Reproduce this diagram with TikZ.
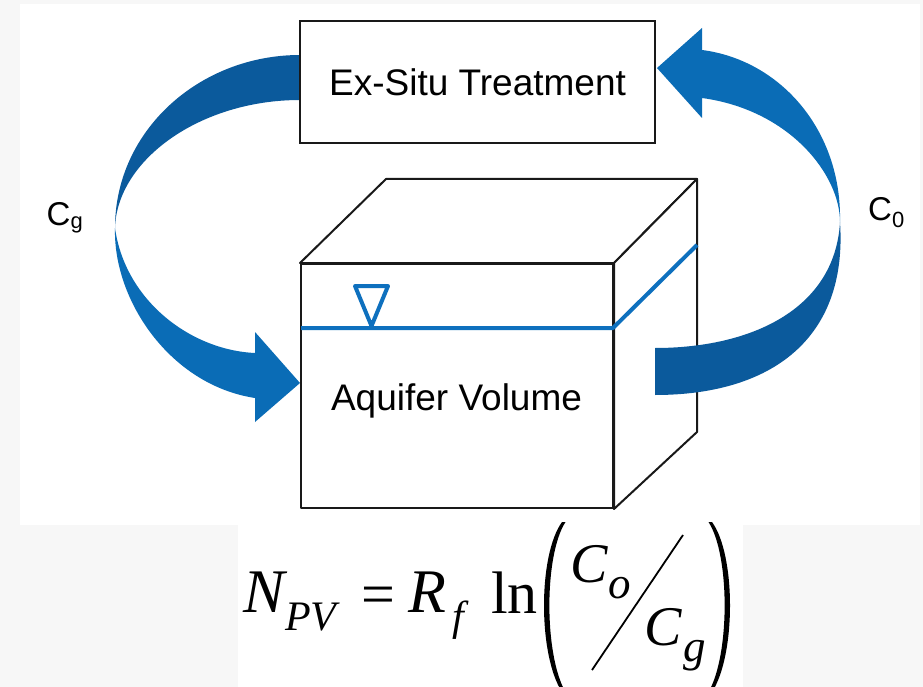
\documentclass[tikz,border=0pt]{standalone}
\usepackage{fontspec}
\setmainfont{Liberation Sans}
\newfontfamily\eqfont{Liberation Serif}
\newcommand\setfs[1]{\fontsize{#1}{#1}\selectfont}
\definecolor{darkblue}{RGB}{11,90,156}
\definecolor{midblue}{RGB}{10,108,182}
\definecolor{lineblue}{RGB}{14,112,190}
\definecolor{edgecol}{RGB}{25,25,25}
\definecolor{margincol}{RGB}{247,247,247}
\tikzset{
  cubeedge/.style={draw=edgecol, line width=2pt, line join=round, fill=white},
  labeltext/.style={inner sep=0pt, font=\setfs{37}},
  clabel/.style={inner sep=0pt, anchor=base west, font=\setfs{33}},
  eqit/.style={inner sep=0pt, anchor=base west, font={\eqfont\itshape}},
  equp/.style={inner sep=0pt, anchor=base west, font={\eqfont}},
  water/.style={draw=lineblue, line width=4pt, line join=round},
}
\begin{document}
\begin{tikzpicture}[x=1pt,y=-1pt]
\useasboundingbox (0,0) rectangle (923,687);
% background panels
\fill[margincol] (0,0) rectangle (923,687);
\fill[white] (20,4) rectangle (920,525);
\fill[white] (238,525) rectangle (743,687);

% left arrow (C_g)
\fill[darkblue] (300,55) .. controls (200,55) and (115,130) .. (115,228)
   .. controls (117,160) and (200,100) .. (300,100) -- cycle;
\fill[midblue] (115,228) .. controls (113,300) and (170,385) .. (255,398)
   -- (255,422) -- (300,383) -- (255,332) -- (255,353)
   .. controls (190,350) and (125,300) .. (115,228) -- cycle;

% right arrow (C_0), upper part with head
\fill[midblue] (702,50) .. controls (780,60) and (842,130) .. (840,222)
   .. controls (840,175) and (790,110) .. (702,98)
   -- (702,118) -- (657,68) -- (702,28) -- cycle;

% Ex-Situ Treatment box
\node[draw=edgecol, line width=2pt, fill=white, minimum width=355pt,
      minimum height=122pt, inner sep=0pt, labeltext] (exsitu) at (477.5,82) {Ex-Situ Treatment};

% cube
\node[cubeedge, minimum width=312pt, minimum height=244pt, inner sep=0pt] (front) at (457,386) {};
\draw[cubeedge] (front.north west) -- (386,179) -- (697,179) -- (front.north east) -- cycle;
\draw[cubeedge] (front.north east) -- (697,179) -- (697,432) -- (front.south east) -- cycle;
\draw[water] (301,328) -- (613,328) -- (697,245);
\draw[water] (355,286) -- (388,286) -- (371.5,326) -- cycle;
\node[labeltext, anchor=base] (aquifer) at (456.5,410) {Aquifer Volume};

% right arrow lower part (in front of cube)
\fill[darkblue] (840,222) .. controls (848,340) and (770,395) .. (655,395)
   -- (655,348) .. controls (750,348) and (835,310) .. (840,222) -- cycle;

% concentration labels
\node[clabel] (cg) at (46.5,225) {C\raisebox{-4pt}{\setfs{22}g}};
\node[clabel] (c0) at (868,220) {C\raisebox{-7pt}{\setfs{22}0}};

% equation
\node[eqit, font={\eqfont\itshape\setfs{62}}] (eqN) at (243,612) {N};
\node[eqit, font={\eqfont\itshape\setfs{42}}] (eqPV) at (285,630) {PV};
\node[equp, font={\eqfont\setfs{60}}] (eqeq) at (361,614) {=};
\node[eqit, font={\eqfont\itshape\setfs{62}}] (eqR) at (408,612) {R};
\node[eqit, font={\eqfont\itshape\setfs{42}}] (eqf) at (452,630) {f};
\node[equp, font={\eqfont\setfs{60}}] (eqln) at (491,613) {ln};
\fill[black] (562,522) .. controls (538,555) and (538,655) .. (562,692)
   -- (565.5,692) .. controls (544,655) and (544,555) .. (565.5,522) -- cycle;
\fill[black] (712,522) .. controls (736,555) and (736,655) .. (712,692)
   -- (708.5,692) .. controls (730,655) and (730,555) .. (708.5,522) -- cycle;
\node[eqit, font={\eqfont\itshape\setfs{56}}] (eqCo) at (570,582) {C};
\node[eqit, font={\eqfont\itshape\setfs{45}}] (eqo) at (608,598) {o};
\coordinate (slA) at (592,670);
\coordinate (slB) at (683,535);
\draw[black, line width=1.8pt] (slA) -- (slB);
\node[eqit, font={\eqfont\itshape\setfs{56}}] (eqCg) at (644,645) {C};
\node[eqit, font={\eqfont\itshape\setfs{45}}] (eqg) at (683,661) {g};
\end{tikzpicture}
\end{document}
